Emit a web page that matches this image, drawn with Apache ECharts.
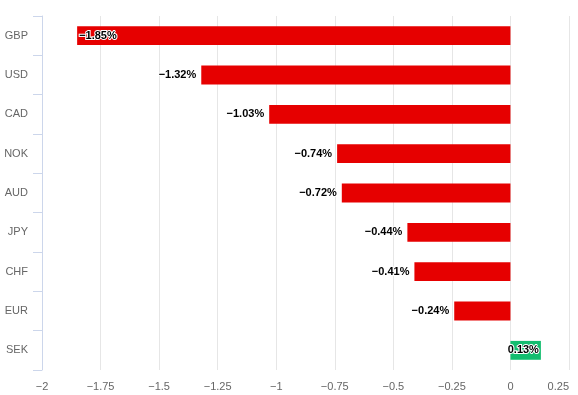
<!DOCTYPE html>
<html><head><meta charset="utf-8">
<script src="https://cdn.jsdelivr.net/npm/echarts@6/dist/echarts.min.js"></script>
<style>html,body{margin:0;padding:0;background:#fff}#c{width:578px;height:395px}</style>
</head><body><div id="c"></div>
<script>
const categories = ['GBP','USD','CAD','NOK','AUD','JPY','CHF','EUR','SEK'];
const values = [-1.85,-1.32,-1.03,-0.74,-0.72,-0.44,-0.41,-0.24,0.13];
const xTicks = { min: -2, max: 0.25, interval: 0.25 };
const FONT = '"Liberation Sans", Arial, sans-serif';
const minus = s => String(s).replace('-', '\u2212');

const chart = echarts.init(document.getElementById('c'), null, {renderer:'canvas'});
const data = values.map((v, i) => {
  let pos = v < 0 ? 'left' : 'right';
  if (i === 0) pos = 'insideLeft';
  if (v > 0) pos = 'insideRight';
  return {
    value: v,
    itemStyle: { color: v < 0 ? '#e60000' : '#13bd6f' },
    label: { position: pos, distance: pos.startsWith('inside') ? 2 : 5 }
  };
});
chart.setOption({
  animation: false,
  grid: { left: 42, right: 9, top: 16, bottom: 25, containLabel: false },
  xAxis: {
    type: 'value', min: xTicks.min, max: xTicks.max, interval: xTicks.interval,
    axisLine: { show: false }, axisTick: { show: false },
    splitLine: { lineStyle: { color: '#e6e6e6' } },
    axisLabel: { color: '#666', fontSize: 11, fontFamily: FONT, margin: 11,
      alignMaxLabel: 'right', formatter: v => minus(v) }
  },
  yAxis: {
    type: 'category', data: categories, inverse: true,
    axisLine: { show: true, onZero: false, lineStyle: { color: '#ccd6eb' } },
    axisTick: { show: true, length: 9, lineStyle: { color: '#ccd6eb' } },
    splitLine: { show: false },
    axisLabel: { color: '#666', fontSize: 11, fontFamily: FONT, margin: 14 }
  },
  series: [{
    type: 'bar', data: data, barWidth: '48%',
    label: {
      show: true, color: '#000', fontSize: 11, fontWeight: 'bold', fontFamily: FONT,
      textBorderColor: '#fff', textBorderWidth: 2,
      formatter: p => minus(p.value.toFixed(2)) + '%'
    }
  }]
});
</script></body></html>
